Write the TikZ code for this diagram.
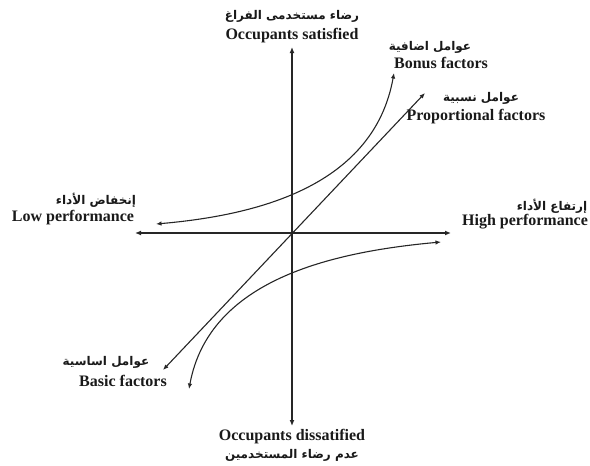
\documentclass[tikz,border=0pt]{standalone}
\usepackage{fontspec}
\setmainfont{Liberation Serif}
\newfontfamily\arabicfont[Script=Arabic]{DejaVu Sans}
\TeXXeTstate=1
\usetikzlibrary{arrows.meta}
\tikzset{
  axisline/.style={line width=1.4pt, draw=black!85, {Latex[length=6pt,width=5pt]}-{Latex[length=6pt,width=5pt]}},
  curveline/.style={line width=1.1pt, draw=black!85, {Latex[length=5.5pt,width=4.5pt]}-{Latex[length=5.5pt,width=4.5pt]}},
  en/.style={font=\fontsize{16}{18}\selectfont\bfseries, inner sep=0pt, text=black!90},
  ar/.style={font=\arabicfont\bfseries\fontsize{12}{14}\selectfont, inner sep=0pt, text=black!90}
}
\begin{document}
\begin{tikzpicture}[x=1pt,y=-1pt]
\useasboundingbox (0,0) rectangle (590,466);
% axis end points
\coordinate (o) at (292,233);
\coordinate (xl) at (135,233);
\coordinate (xr) at (451,233);
\coordinate (yt) at (292,47);
\coordinate (yb) at (292,426);
% curve end points
\coordinate (pl) at (163,370);
\coordinate (pu) at (425,93);
\coordinate (bl) at (156,224);
\coordinate (bu) at (394,73);
\coordinate (br) at (441,242);
\coordinate (bb) at (189,389);

\draw[axisline] (xl) -- (xr);
\draw[axisline] (yt) -- (yb);
\draw[curveline] (pl) -- (pu);
\draw[curveline] (bl) .. controls (260,215) and (374,185) .. (bu);
\draw[curveline] (br) .. controls (331,252) and (209,280) .. (bb);

% labels
\node[ar] (topar) at (292,16) {\beginR رضاء مستخدمى الفراغ\endR};
\node[en] (topen) at (292,36) {Occupants satisfied};
\node[ar] (bonar) at (430,47) {\beginR عوامل اضافية\endR};
\node[en] (bonen) at (441,63) {Bonus factors};
\node[ar] (proar) at (481,98) {\beginR عوامل نسبية\endR};
\node[en] (proen) at (476,117) {Proportional factors};
\node[ar] (lowar) at (96,200) {\beginR إنخفاض الأداء\endR};
\node[en] (lowen) at (73,218) {Low performance};
\node[ar] (highar) at (552,206) {\beginR إرتفاع الأداء\endR};
\node[en] (highen) at (525,222) {High performance};
\node[ar] (basar) at (106,362) {\beginR عوامل اساسية\endR};
\node[en] (basen) at (123,381) {Basic factors};
\node[en] (boten) at (292,437) {Occupants dissatified};
\node[ar] (botar) at (292,455) {\beginR عدم رضاء المستخدمين\endR};
\end{tikzpicture}
\end{document}
